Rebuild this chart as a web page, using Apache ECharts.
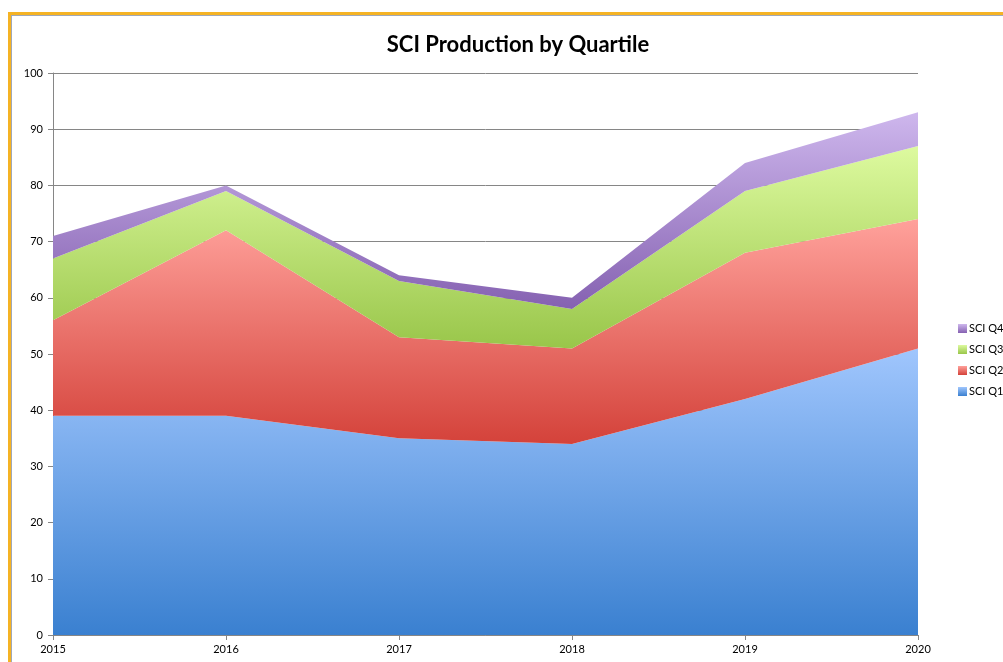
<!DOCTYPE html>
<html>
<head>
<meta charset="utf-8">
<script src="https://cdn.jsdelivr.net/npm/echarts@6/dist/echarts.min.js"></script>
<style>
html,body{margin:0;padding:0;background:#fff;}
#frame{position:absolute;left:8px;top:12px;width:1003px;height:662px;border-left:3px solid #f5b324;border-top:3px solid #f5b324;}
#frame2{position:absolute;left:11px;top:15px;width:1000px;height:660px;border-left:1px solid #a0a8b8;border-top:1px solid #a0a8b8;}
#chart{position:absolute;left:0;top:0;width:1003px;height:662px;}
</style>
</head>
<body>
<div id="frame"></div>
<div id="frame2"></div>
<div id="chart"></div>
<script>
const years = ['2015','2016','2017','2018','2019','2020'];
const q1 = [39, 39, 35, 34, 42, 51];
const q2 = [17, 33, 18, 17, 26, 23];
const q3 = [11, 7, 10, 7, 11, 13];
const q4 = [4, 1, 1, 2, 5, 6];
const seriesNames = ['SCI Q1','SCI Q2','SCI Q3','SCI Q4'];
const seriesData = [q1, q2, q3, q4];
const grads = [
  ['#a0c6fd', '#3a80d0'],
  ['#ffa19b', '#d4423a'],
  ['#ddfa9f', '#99c64a'],
  ['#ceb7ed', '#8561b1']
];
const chart = echarts.init(document.getElementById('chart'), null, {renderer:'canvas'});
const font = 'Lato, "Open Sans", sans-serif';
function grad(c){
  return new echarts.graphic.LinearGradient(0,0,0,1,[{offset:0,color:c[0]},{offset:1,color:c[1]}]);
}
chart.setOption({
  animation:false,
  backgroundColor:'transparent',
  title:{
    text:'SCI Production by Quartile',
    left:513, top:29, textAlign:'center',
    textStyle:{fontFamily:font,fontSize:22,fontWeight:'bold',color:'#000'}
  },
  legend:{
    orient:'vertical',
    left:953, top:318,
    itemWidth:9, itemHeight:9, itemGap:10,
    icon:'rect',
    data:['SCI Q4','SCI Q3','SCI Q2','SCI Q1'],
    textStyle:{fontFamily:font,fontSize:11,color:'#000',padding:[0,0,0,-3]}
  },
  grid:{left:53,right:85,top:73,bottom:27,containLabel:false},
  xAxis:{
    type:'category',
    boundaryGap:false,
    data:years,
    axisLine:{lineStyle:{color:'#868686',width:1}},
    axisTick:{show:true,length:5,lineStyle:{color:'#868686'}},
    axisLabel:{fontFamily:font,fontSize:11,color:'#000',margin:9},
    splitLine:{show:false}
  },
  yAxis:{
    type:'value',
    min:0,max:100,interval:10,
    axisLine:{show:true,lineStyle:{color:'#868686',width:1}},
    axisTick:{show:true,length:5,lineStyle:{color:'#868686'}},
    axisLabel:{fontFamily:font,fontSize:11,color:'#000',margin:10},
    splitLine:{show:true,lineStyle:{color:'#868686',width:1}}
  },
  series: seriesNames.map((n,i)=>({
    name:n,
    type:'line',
    stack:'total',
    data:seriesData[i],
    symbol:'none',
    showSymbol:false,
    lineStyle:{width:0,opacity:0},
    itemStyle:{color:grad(grads[i])},
    areaStyle:{color:grad(grads[i]),opacity:1},
    z:2
  }))
});
</script>
</body>
</html>
